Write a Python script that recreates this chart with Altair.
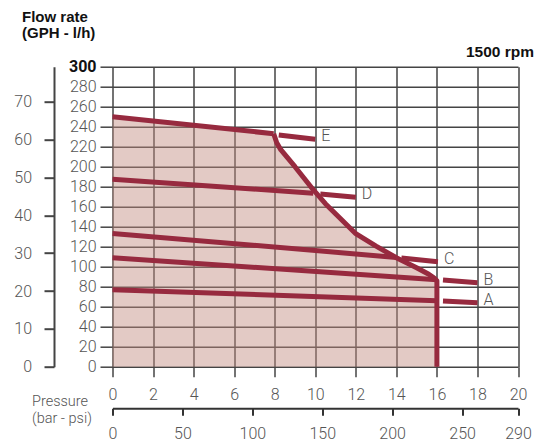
import altair as alt
import pandas as pd

# ---- axis tick values ----
bar_ticks = [0, 2, 4, 6, 8, 10, 12, 14, 16, 18, 20]
lh_ticks = [0, 20, 40, 60, 80, 100, 120, 140, 160, 180, 200, 220, 240, 260, 280, 300]
gph_ticks = [0, 10, 20, 30, 40, 50, 60, 70]
psi_ticks = [0, 50, 100, 150, 200, 250, 290]

# ---- series (pressure bar, flow l/h) ----
series_names = ["A", "B", "C", "D", "E"]
A_in_bar, A_in_lh = [0, 16], [77, 66]
A_out_bar, A_out_lh = [16.3, 18], [65.7, 64]
B_in_bar, B_in_lh = [0, 16], [109, 87]
B_out_bar, B_out_lh = [16.3, 18], [86.6, 84]
C_in_bar, C_in_lh = [0, 14.0], [133.3, 109.3]
C_out_bar, C_out_lh = [14.25, 16.05], [108.8, 105]
D_in_bar, D_in_lh = [0, 9.9], [187.5, 173.5]
D_out_bar, D_out_lh = [10.25, 12], [172.8, 169.5]
E_in_bar, E_in_lh = [0, 7.95], [250, 233]
E_out_bar, E_out_lh = [8.2, 10], [231.8, 227.5]

# ---- limit curve ----
limit_bar = [7.95, 8.1, 8.3, 9.0, 9.9, 10.5, 11.0, 11.5, 12.0, 13.0, 14.0, 15.0, 15.6, 15.85, 16.0, 16.0]
limit_lh = [233, 224, 217, 200, 177, 163, 153, 143, 133, 120.5, 109, 99, 92.5, 89, 86, 0]

FONT = "Roboto"
TFONT = "Liberation Sans"
GRID = "#444444"
LINE = "#972a3f"
LABEL = "#555555"
FILL = "#c08a7f"

segs = {
    "A": [(A_in_bar, A_in_lh), (A_out_bar, A_out_lh)],
    "B": [(B_in_bar, B_in_lh), (B_out_bar, B_out_lh)],
    "C": [(C_in_bar, C_in_lh), (C_out_bar, C_out_lh)],
    "D": [(D_in_bar, D_in_lh), (D_out_bar, D_out_lh)],
    "E": [(E_in_bar, E_in_lh), (E_out_bar, E_out_lh)],
}
rows = []
label_rows = []
for name in series_names:
    for k, (bx, ly) in enumerate(segs[name]):
        for i, (b, l) in enumerate(zip(bx, ly)):
            rows.append({"seg": f"{name}{k}", "bar": b, "lh": l, "i": i})
    ob, ol = segs[name][1]
    label_rows.append({"name": name, "bar": ob[-1], "lh": ol[-1]})
for i, (b, l) in enumerate(zip(limit_bar, limit_lh)):
    rows.append({"seg": "limit", "bar": b, "lh": l, "i": i})
lines_df = pd.DataFrame(rows)
labels_df = pd.DataFrame(label_rows)

area_df = pd.DataFrame({
    "bar": E_in_bar + limit_bar[1:-1],
    "lh": E_in_lh + limit_lh[1:-1],
})

x_scale = alt.Scale(domain=[0, 20], nice=False)
y_scale = alt.Scale(domain=[0, 300], nice=False)

x_axis = alt.Axis(
    values=bar_ticks, grid=True, gridColor=GRID, gridWidth=1.5,
    domain=False, ticks=True, tickSize=10, tickColor=GRID, tickWidth=1.5,
    labelPadding=10, labelFontSize=16, labelColor=LABEL, labelFont=FONT,
    labelFontWeight=300, labelFlush=False, labelOverlap=False, title=None,
)
y_axis = alt.Axis(
    values=lh_ticks, grid=True, gridColor=GRID, gridWidth=1.5,
    domain=False, ticks=True, tickSize=12.5, tickColor=GRID, tickWidth=1.5,
    labelPadding=4, labelFontSize=16, labelFont=FONT,
    labelColor={"condition": {"test": "datum.value == 300", "value": "#111111"}, "value": LABEL},
    labelFontWeight={"condition": {"test": "datum.value == 300", "value": "bold"}, "value": 300},
    labelOverlap=False, title=None,
)
X = alt.X("bar:Q", scale=x_scale, axis=x_axis)
Y = alt.Y("lh:Q", scale=y_scale, axis=y_axis)

area = alt.Chart(area_df).mark_area(color=FILL, opacity=0.45, orient="vertical").encode(x=X, y=Y)

lines = alt.Chart(lines_df).mark_line(
    color=LINE, strokeWidth=5, strokeCap="butt", strokeJoin="round"
).encode(x=X, y=Y, detail="seg:N", order="i:Q")

letters = alt.Chart(labels_df).mark_text(
    align="left", baseline="middle", dx=6, dy=-3, font=FONT, fontSize=16,
    fontWeight=300, color=LABEL
).encode(x=X, y=Y, text="name:N")


def note(lines_txt, x, y, align="left", size=16, weight=300, color=LABEL, font=FONT, lh=16):
    return alt.Chart(pd.DataFrame({"t": [lines_txt]})).mark_text(
        align=align, baseline="alphabetic", font=font, fontSize=size,
        fontWeight=weight, color=color, lineHeight=lh
    ).encode(text="t:N", x=alt.value(x), y=alt.value(y))


notes = [
    note(["Flow rate", "(GPH - l/h)"], -90.5, -44.7, size=15, weight="bold", color="#111111", font=TFONT, lh=16.5),
    note(["1500 rpm"], 421.5, -10, align="right", size=15.5, weight="bold", color="#111111", font=TFONT),
    note(["Pressure", "(bar - psi)"], -80.5, 338.8, size=14.5, lh=17),
]

main = alt.layer(area, lines, letters, *notes)

psi_layer = alt.Chart(pd.DataFrame({"psi": psi_ticks})).mark_point(opacity=0).encode(
    x=alt.X("psi:Q", scale=alt.Scale(domain=[0, 290], nice=False),
            axis=alt.Axis(orient="bottom", offset=41.6, values=psi_ticks, grid=False,
                          domain=True, domainColor="#333333", domainWidth=2,
                          ticks=True, tickSize=7, tickColor="#333333", tickWidth=2,
                          labelPadding=10.5, labelFontSize=16, labelColor=LABEL, labelFont=FONT,
                          labelFontWeight=300, labelFlush=False, labelOverlap=False, title=None))
)

gph_layer = alt.Chart(pd.DataFrame({"gph": gph_ticks})).mark_point(opacity=0).encode(
    y=alt.Y("gph:Q", scale=alt.Scale(domain=[0, 300 / 3.785], nice=False),
            axis=alt.Axis(orient="left", offset=58.5, values=gph_ticks, grid=False,
                          domain=True, domainColor="#444444", domainWidth=2,
                          ticks=True, tickSize=10, tickColor="#444444", tickWidth=2,
                          labelPadding=12.5, labelFontSize=16, labelColor=LABEL, labelFont=FONT,
                          labelFontWeight=300, labelOverlap=False, title=None))
)

chart = alt.layer(main, psi_layer, gph_layer).resolve_scale(
    x="independent", y="independent"
).properties(
    width=405.5, height=300, autosize="none",
    padding={"left": 104.5, "top": 58.7, "right": 16, "bottom": 77.3},
).configure_view(stroke=None)

chart.save("out.html", embed_options={"renderer": "svg", "actions": False})
